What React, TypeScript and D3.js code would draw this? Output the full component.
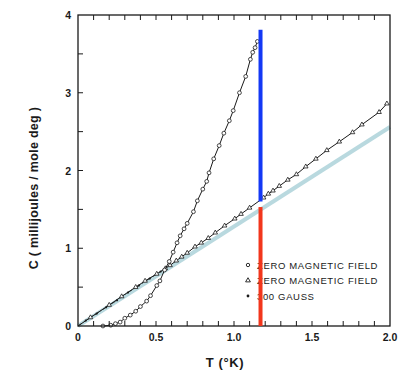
import React, { useEffect, useRef } from "react";
import * as d3 from "d3";

// superconducting state (zero field) - open circles
const circT = [0.16, 0.21, 0.24, 0.27, 0.3, 0.335, 0.37, 0.4, 0.44, 0.465, 0.505, 0.525, 0.555, 0.585, 0.61, 0.635, 0.655, 0.68, 0.7, 0.74, 0.765, 0.8, 0.825, 0.84, 0.87, 0.905, 0.935, 0.97, 0.995, 1.035, 1.075, 1.105, 1.12, 1.135, 1.15];
const circC = [0.0, 0.01, 0.03, 0.05, 0.1, 0.14, 0.19, 0.25, 0.32, 0.39, 0.52, 0.58, 0.72, 0.83, 0.95, 1.07, 1.16, 1.25, 1.32, 1.47, 1.61, 1.76, 1.86, 1.97, 2.15, 2.32, 2.48, 2.64, 2.77, 3.0, 3.21, 3.43, 3.52, 3.58, 3.66];

// normal state (zero field) - open triangles
const triT = [0.08, 0.2, 0.28, 0.37, 0.43, 0.505, 0.56, 0.59, 0.63, 0.665, 0.7, 0.75, 0.79, 0.835, 0.88, 0.94, 1.005, 1.045, 1.1, 1.19, 1.22, 1.25, 1.29, 1.345, 1.4, 1.46, 1.525, 1.595, 1.675, 1.76, 1.82, 1.93, 1.98];
const triC = [0.11, 0.27, 0.38, 0.5, 0.58, 0.67, 0.74, 0.78, 0.84, 0.89, 0.94, 1.02, 1.07, 1.13, 1.2, 1.29, 1.38, 1.44, 1.52, 1.65, 1.7, 1.74, 1.8, 1.88, 1.95, 2.05, 2.15, 2.26, 2.37, 2.49, 2.59, 2.75, 2.86];

// 300 gauss - small dots
const gaussT = [0.0, 0.05, 0.12, 0.18, 0.25, 0.32, 0.39, 0.46, 0.53];
const gaussC = [0.0, 0.07, 0.16, 0.24, 0.33, 0.43, 0.52, 0.61, 0.7];

// overlay: reference line and transition markers
const refLineT = [0, 2.0];
const refLineC = [0, 2.56];
const transT = 1.17;
const redSpan = [0, 1.53];
const blueSpan = [1.6, 3.81];

const xTicks = [0, 0.5, 1.0, 1.5, 2.0];
const xTickLabels = ["0", "0.5", "1.0", "1.5", "2.0"];
const yTicks = [0, 1, 2, 3, 4];
const legendLabels = ["ZERO MAGNETIC FIELD", "ZERO MAGNETIC FIELD", "300 GAUSS"];

const FONT = "'Liberation Sans', Arial, sans-serif";

export default function App() {
  const ref = useRef<SVGSVGElement>(null);

  useEffect(() => {
    const svg = d3.select(ref.current);
    svg.selectAll("*").remove();

    const margin = { top: 15, right: 19, bottom: 49, left: 78 };
    const width = 409;
    const height = 375;

    const x = d3.scaleLinear().domain([0, 2]).range([margin.left, width - margin.right]);
    const y = d3.scaleLinear().domain([0, 4]).range([height - margin.bottom, margin.top]);

    const ink = "#1a1a1a";
    const line = d3
      .line<[number, number]>()
      .x((d) => x(d[0]))
      .y((d) => y(d[1]));

    // light blue reference line
    svg
      .append("path")
      .attr("d", line(refLineT.map((t, i) => [t, refLineC[i]])))
      .attr("stroke", "#b9d9df")
      .attr("stroke-width", 4)
      .attr("fill", "none");

    // 300 gauss dash-dot
    svg
      .append("path")
      .attr("d", line(gaussT.map((t, i) => [t, gaussC[i]])))
      .attr("stroke", ink)
      .attr("stroke-width", 0.8)
      .attr("stroke-dasharray", "5,2,1,2")
      .attr("fill", "none");
    svg
      .selectAll(".gdot")
      .data(gaussT.slice(1))
      .enter()
      .append("circle")
      .attr("cx", (d) => x(d))
      .attr("cy", (d, i) => y(gaussC[i + 1]))
      .attr("r", 1.1)
      .attr("fill", ink);

    // triangles
    const triData: [number, number][] = triT.map((t, i) => [t, triC[i]]);
    svg
      .append("path")
      .attr("d", line([[0, 0], ...triData]))
      .attr("stroke", ink)
      .attr("stroke-width", 1)
      .attr("fill", "none");
    const tri = d3.symbol().type(d3.symbolTriangle).size(9);
    svg
      .selectAll(".tri")
      .data(triData)
      .enter()
      .append("path")
      .attr("d", tri)
      .attr("transform", (d) => `translate(${x(d[0])},${y(d[1])})`)
      .attr("fill", "white")
      .attr("stroke", ink)
      .attr("stroke-width", 0.8);

    // circles
    const circData: [number, number][] = circT.map((t, i) => [t, circC[i]]);
    svg
      .append("path")
      .attr("d", line(circData))
      .attr("stroke", ink)
      .attr("stroke-width", 1)
      .attr("fill", "none");
    svg
      .selectAll(".circ")
      .data(circData)
      .enter()
      .append("circle")
      .attr("cx", (d) => x(d[0]))
      .attr("cy", (d) => y(d[1]))
      .attr("r", 1.9)
      .attr("fill", "white")
      .attr("stroke", ink)
      .attr("stroke-width", 0.8);

    // frame
    svg
      .append("rect")
      .attr("x", x(0))
      .attr("y", y(4))
      .attr("width", x(2) - x(0))
      .attr("height", y(0) - y(4))
      .attr("fill", "none")
      .attr("stroke", ink)
      .attr("stroke-width", 1.3);

    // inward ticks
    const minorX = d3.range(1, 20).map((i) => i / 10);
    svg
      .selectAll(".tb")
      .data(minorX)
      .enter()
      .append("line")
      .attr("x1", (d) => x(d))
      .attr("x2", (d) => x(d))
      .attr("y1", y(0))
      .attr("y2", y(0) - 5)
      .attr("stroke", ink);
    svg
      .selectAll(".tt")
      .data(minorX)
      .enter()
      .append("line")
      .attr("x1", (d) => x(d))
      .attr("x2", (d) => x(d))
      .attr("y1", y(4))
      .attr("y2", y(4) + 5)
      .attr("stroke", ink);
    svg
      .selectAll(".tl")
      .data(d3.range(1, 8).map((i) => i / 2))
      .enter()
      .append("line")
      .attr("x1", x(0))
      .attr("x2", x(0) + 5)
      .attr("y1", (d) => y(d))
      .attr("y2", (d) => y(d))
      .attr("stroke", ink);

    // tick labels
    svg
      .selectAll(".xl")
      .data(xTicks)
      .enter()
      .append("text")
      .attr("x", (d) => x(d))
      .attr("y", y(0) + 15)
      .attr("text-anchor", "middle")
      .attr("font-family", FONT)
      .attr("font-size", 10.5)
      .attr("font-weight", 600)
      .attr("fill", ink)
      .text((d, i) => xTickLabels[i]);
    svg
      .selectAll(".yl")
      .data(yTicks)
      .enter()
      .append("text")
      .attr("x", x(0) - 7)
      .attr("y", (d) => y(d) + 4)
      .attr("text-anchor", "end")
      .attr("font-family", FONT)
      .attr("font-size", 10.5)
      .attr("font-weight", 600)
      .attr("fill", ink)
      .text((d) => d);

    // axis titles
    svg
      .append("text")
      .attr("x", 225)
      .attr("y", 367)
      .attr("text-anchor", "middle")
      .attr("font-family", FONT)
      .attr("font-size", 13)
      .attr("font-weight", "bold")
      .attr("letter-spacing", 0.6)
      .attr("fill", ink)
      .text("T (°K)");
    svg
      .append("text")
      .attr("transform", "translate(38,188) rotate(-90)")
      .attr("text-anchor", "middle")
      .attr("font-family", FONT)
      .attr("font-size", 12.5)
      .attr("font-weight", 600)
      .attr("letter-spacing", 0.3)
      .attr("fill", ink)
      .text("C ( millijoules / mole deg )");

    // legend
    const lx = 248;
    const ly = [265, 280.5, 296];
    legendLabels.forEach((lab, i) => {
      if (i === 0) {
        svg.append("circle").attr("cx", lx).attr("cy", ly[i]).attr("r", 1.7)
          .attr("fill", "white").attr("stroke", ink).attr("stroke-width", 0.9);
      } else if (i === 1) {
        svg.append("path").attr("d", d3.symbol().type(d3.symbolTriangle).size(10)())
          .attr("transform", `translate(${lx},${ly[i]})`)
          .attr("fill", "white").attr("stroke", ink).attr("stroke-width", 0.9);
      } else {
        svg.append("circle").attr("cx", lx).attr("cy", ly[i]).attr("r", 1.4).attr("fill", ink);
      }
      svg
        .append("text")
        .attr("x", lx + 9)
        .attr("y", ly[i] + 3.5)
        .attr("font-family", FONT)
        .attr("font-size", 9.5)
        .attr("letter-spacing", 0.65)
        .attr("fill", ink)
        .text(lab);
    });

    // transition markers
    svg
      .append("line")
      .attr("x1", x(transT))
      .attr("x2", x(transT))
      .attr("y1", y(redSpan[0]))
      .attr("y2", y(redSpan[1]))
      .attr("stroke", "#f2361c")
      .attr("stroke-width", 4);
    svg
      .append("line")
      .attr("x1", x(transT))
      .attr("x2", x(transT))
      .attr("y1", y(blueSpan[0]))
      .attr("y2", y(blueSpan[1]))
      .attr("stroke", "#1438f5")
      .attr("stroke-width", 4);
  }, []);

  return (
    <svg
      ref={ref}
      width={409}
      height={375}
      style={{ position: "absolute", left: 0, top: 0, background: "white" }}
    />
  );
}
